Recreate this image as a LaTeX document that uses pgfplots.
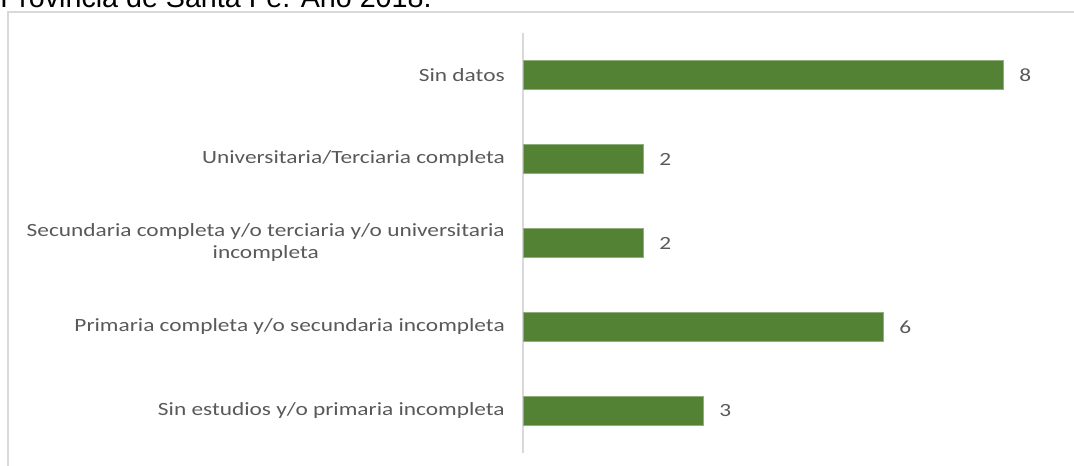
\documentclass[border=0pt]{standalone}
\usepackage{pgfplots}
\pgfplotsset{compat=1.18}
\usepackage{fontspec}
\setmainfont{Carlito}
\newfontfamily\arial{Liberation Sans}
\usepackage{graphicx}
\definecolor{barc}{HTML}{548235}
\definecolor{txt}{HTML}{595959}
\definecolor{gridc}{HTML}{D9D9D9}
\newcommand\sq[1]{\scalebox{1.25}[1]{#1}}
\begin{document}
\begin{tikzpicture}
\useasboundingbox (0,0) rectangle (1074*0.75pt,-466*0.75pt);
\draw[gridc, line width=1.1pt] (8*0.75pt,-466*0.75pt) -- (8*0.75pt,-12*0.75pt) -- (1074*0.75pt,-12*0.75pt);
\node[anchor=base west, inner sep=0pt, font=\arial\fontsize{21.5}{24}\selectfont] at (0pt,-8*0.75pt) {Provincia de Santa Fe. Año 2018.};
\begin{axis}[
  at={(523*0.75pt,-453*0.75pt)}, anchor=south west,
  scale only axis, width=405pt, height=315pt,
  xmin=0, xmax=9, ymin=-0.5, ymax=4.5,
  xbar, bar width=22pt,
  axis x line=none, axis y line*=left,
  y axis line style={-, gridc, line width=0.8pt},
  ytick={0,1,2,3,4},
  y tick style={draw=none},
  major tick length=0pt,
  yticklabels={
    {\sq{Sin estudios y/o primaria incompleta}},
    {\sq{Primaria completa y/o secundaria incompleta}},
    {\sq{\begin{tabular}{@{}c@{}}Secundaria completa y/o terciaria y/o universitaria\\incompleta\end{tabular}}},
    {\sq{Universitaria/Terciaria completa}},
    {\sq{Sin datos}}
  },
  yticklabel style={anchor=east, inner sep=0pt, xshift=-13.5pt, text=txt, font=\fontsize{14}{17}\selectfont},
  point meta=x,
  /pgf/number format/assume math mode=true,
  nodes near coords={\sq{\pgfmathprintnumber{\pgfplotspointmeta}}},
  nodes near coords style={anchor=west, inner sep=0pt, xshift=12pt, text=txt, font=\fontsize{14}{17}\selectfont},
  clip=false,
]
\addplot[fill=barc, draw=barc!65!white, line width=0.5pt] coordinates {(3,0) (6,1) (2,2) (2,3) (8,4)};
\end{axis}
\end{tikzpicture}
\end{document}
